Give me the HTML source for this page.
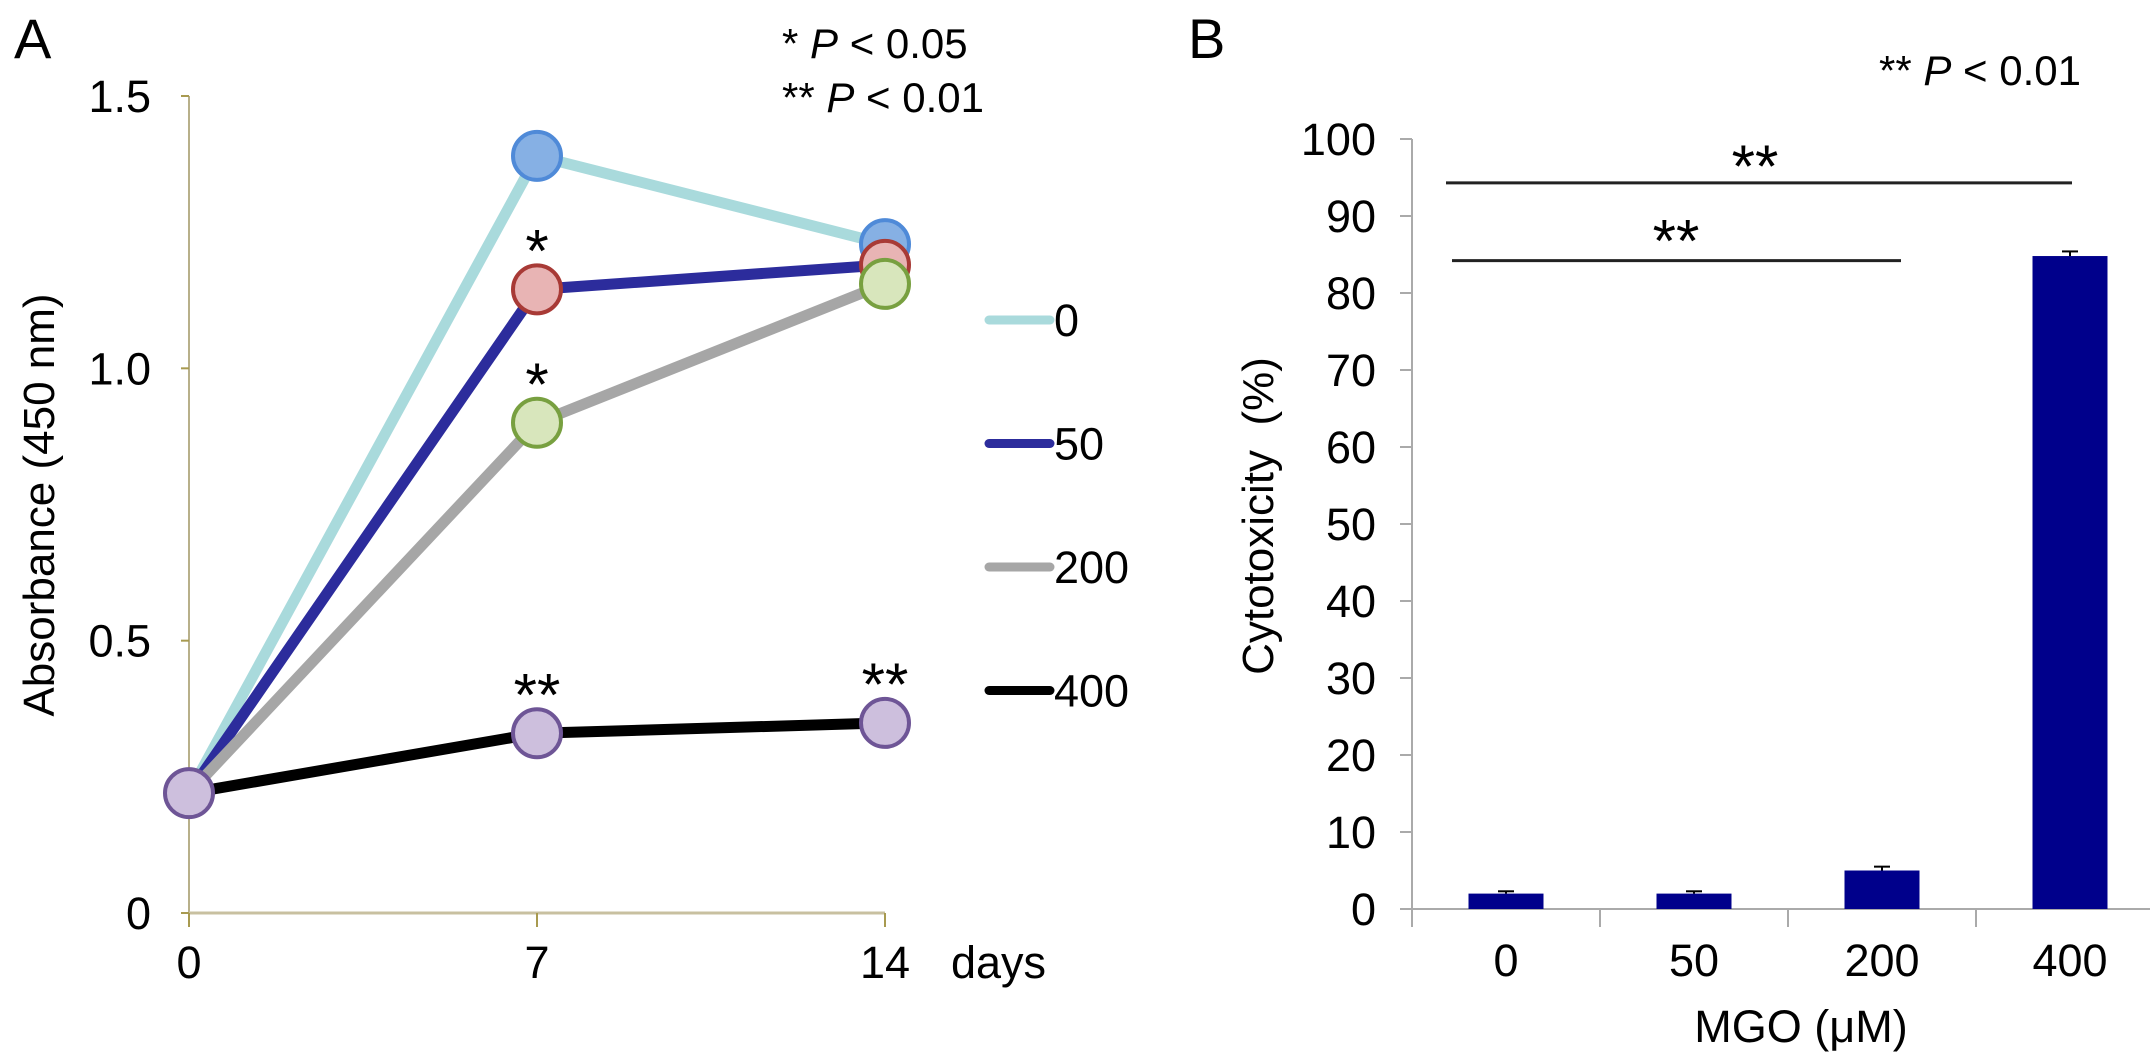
<!DOCTYPE html>
<html><head><meta charset="utf-8"><style>
html,body{margin:0;padding:0;background:#fff;}
svg{display:block;font-family:"Liberation Sans",Arial,sans-serif;}
</style></head><body>
<svg id="fig" width="2150" height="1062" viewBox="0 0 2150 1062">
<text x="14" y="58" font-size="56">A</text>
<text x="782" y="58" font-size="42">* <tspan font-style="italic">P</tspan> &lt; 0.05</text>
<text x="782" y="112" font-size="42">** <tspan font-style="italic">P</tspan> &lt; 0.01</text>
<text x="1188" y="58" font-size="56">B</text>
<text x="1879" y="85" font-size="42">** <tspan font-style="italic">P</tspan> &lt; 0.01</text>
<text transform="translate(54,505) rotate(-90)" text-anchor="middle" font-size="44">Absorbance (450 nm)</text>
<text transform="translate(1273,516) rotate(-90)" text-anchor="middle" font-size="44" xml:space="preserve">Cytotoxicity  (%)</text>
<text x="1801" y="1042" text-anchor="middle" font-size="45">MGO (μM)</text>
<text x="951" y="978" font-size="45">days</text>
<g id="ga"></g>
<g id="gb"></g>
</svg>
<script>
const days = [0, 7, 14];
const dayLabels = ["0", "7", "14"];
const aTicks = [0, 0.5, 1.0, 1.5];
const aTickLabels = ["0", "0.5", "1.0", "1.5"];
const seriesNames = ["0", "50", "200", "400"];
const s0 = [0.22, 1.39, 1.228];
const s50 = [0.22, 1.145, 1.19];
const s200 = [0.22, 0.90, 1.155];
const s400 = [0.22, 0.33, 0.349];
const starsA = [[7, 1.145, "*"], [7, 0.90, "*"], [7, 0.33, "**"], [14, 0.349, "**"]];

const mgo = ["0", "50", "200", "400"];
const cyto = [2.0, 2.0, 5.0, 84.8];
const cytoErr = [0.3, 0.3, 0.5, 0.6];
const bTicks = [0,10,20,30,40,50,60,70,80,90,100];
const bracketTop = 94.3;
const bracketLow = 84.2;

const NS = "http://www.w3.org/2000/svg";
function mk(parent, tag, attrs){ const e=document.createElementNS(NS,tag); for(const k in attrs) e.setAttribute(k,attrs[k]); parent.appendChild(e); return e; }

// Panel A
const ga = document.getElementById('ga');
const xA = d => 189 + (d/14)*(885-189);
const yA = v => 913 - v*(913-96)/1.5;
mk(ga,'line',{x1:189,y1:yA(1.5),x2:189,y2:yA(0),stroke:'#b8b08a','stroke-width':2});
mk(ga,'line',{x1:189,y1:yA(0),x2:885,y2:yA(0),stroke:'#c8c0a0','stroke-width':3});
aTicks.forEach((t,i)=>{
  mk(ga,'line',{x1:181,y1:yA(t),x2:189,y2:yA(t),stroke:'#a89a50','stroke-width':2});
  const tx=mk(ga,'text',{x:151,y:yA(t)+16,'text-anchor':'end','font-size':45});
  tx.textContent=aTickLabels[i];
  
  
});
days.forEach((d,i)=>{
  mk(ga,'line',{x1:xA(d),y1:yA(0),x2:xA(d),y2:yA(0)+14,stroke:'#a89a50','stroke-width':2});
  const tx=mk(ga,'text',{x:xA(d),y:978,'text-anchor':'middle','font-size':45});
  tx.textContent=dayLabels[i];
  
  
});
const series=[s0,s50,s200,s400];
const lineCols=['#a9dadc','#2c2c9c','#a6a6a6','#000000'];
const mFill=['#86b0e4','#e8b4b4','#d8e6bc','#cdbfdd'];
const mStroke=['#4f8ad8','#a83a36','#78a040','#6e5596'];
series.forEach((s,k)=>{
  const pts=s.map((v,i)=>xA(days[i])+','+yA(v)).join(' ');
  const pl=mk(ga,'polyline',{points:pts,fill:'none',stroke:lineCols[k],'stroke-width':11,'stroke-linejoin':'round'});
  
  
});
series.forEach((s,k)=>{
  s.forEach((v,i)=>{
    if(i===0 && k<3) return;
    const c=mk(ga,'circle',{cx:xA(days[i]),cy:yA(v),r:24,fill:mFill[k],stroke:mStroke[k],'stroke-width':4});
    
    
  });
});
starsA.forEach(s=>{
  const tx=mk(ga,'text',{x:xA(s[0]),y:yA(s[1])-18,'text-anchor':'middle','font-size':60});
  tx.textContent=s[2];
  
  
});
seriesNames.forEach((n,k)=>{
  const y=320+k*123.5;
  const ln=mk(ga,'line',{x1:989,y1:y,x2:1050,y2:y,stroke:lineCols[k],'stroke-width':9,'stroke-linecap':'round'});
  
  
  const tx=mk(ga,'text',{x:1054,y:y+16,'font-size':45});
  tx.textContent=n;
  
  
});

// Panel B
const gb=document.getElementById('gb');
const bx0=1412, cw=188;
const yB=v=>909 - v*(909-139)/100;
const xB=i=>bx0+cw*(i+0.5);
mk(gb,'line',{x1:bx0,y1:yB(100),x2:bx0,y2:yB(0)+18,stroke:'#aaa','stroke-width':2});
mk(gb,'line',{x1:bx0-12,y1:yB(0),x2:2150,y2:yB(0),stroke:'#aaa','stroke-width':2});
bTicks.forEach(t=>{
  mk(gb,'line',{x1:bx0-12,y1:yB(t),x2:bx0,y2:yB(t),stroke:'#aaa','stroke-width':2});
  const tx=mk(gb,'text',{x:1376,y:yB(t)+16,'text-anchor':'end','font-size':45});
  tx.textContent=String(t);
  
  
});
mgo.forEach((m,i)=>{
  mk(gb,'line',{x1:bx0+cw*(i+1),y1:yB(0),x2:bx0+cw*(i+1),y2:yB(0)+18,stroke:'#aaa','stroke-width':2});
  const r=mk(gb,'rect',{x:xB(i)-37.5,y:yB(cyto[i]),width:75,height:yB(0)-yB(cyto[i]),fill:'#00008b'});
  
  
  const ey=yB(cyto[i]+cytoErr[i]);
  mk(gb,'line',{x1:xB(i),y1:yB(cyto[i]),x2:xB(i),y2:ey,stroke:'#000','stroke-width':2});
  mk(gb,'line',{x1:xB(i)-8,y1:ey,x2:xB(i)+8,y2:ey,stroke:'#000','stroke-width':2});
  const tx=mk(gb,'text',{x:xB(i),y:976,'text-anchor':'middle','font-size':45});
  tx.textContent=m;
  
  
});
const b1=mk(gb,'line',{x1:1446,y1:yB(bracketTop),x2:2072,y2:yB(bracketTop),stroke:'#222','stroke-width':3});


const b2=mk(gb,'line',{x1:1452,y1:yB(bracketLow),x2:1901,y2:yB(bracketLow),stroke:'#222','stroke-width':3});


const st1=mk(gb,'text',{x:1755,y:yB(bracketTop)+4,'text-anchor':'middle','font-size':60});
st1.textContent='**';


const st2=mk(gb,'text',{x:1676,y:yB(bracketLow)+1,'text-anchor':'middle','font-size':60});
st2.textContent='**';


</script>
</body></html>
